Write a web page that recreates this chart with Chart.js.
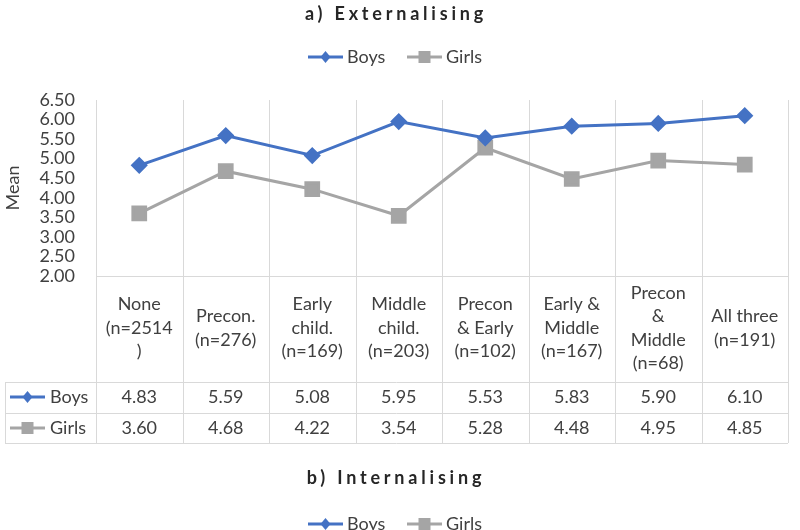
<!DOCTYPE html>
<html><head><meta charset="utf-8">
<script src="https://cdn.jsdelivr.net/npm/chart.js@4/dist/chart.umd.min.js"></script>
<style>html,body{margin:0;padding:0;background:#fff}canvas{display:block}</style>
</head><body>
<canvas id="c" width="800" height="530"></canvas>
<script>
const categories = [["None","(n=2514",")"],["Precon.","(n=276)"],["Early","child.","(n=169)"],["Middle","child.","(n=203)"],["Precon","& Early","(n=102)"],["Early &","Middle","(n=167)"],["Precon","&","Middle","(n=68)"],["All three","(n=191)"]];
const boys = [4.83,5.59,5.08,5.95,5.53,5.83,5.90,6.10];
const girls = [3.60,4.68,4.22,3.54,5.28,4.48,4.95,4.85];
const seriesNames = ["Boys","Girls"];
const yMin = 2.0, yMax = 6.5, yStep = 0.5;
const chartTitle = "a) Externalising";
const nextTitle = "b) Internalising";
const yTitle = "Mean";

const FONT = 'Lato, "Open Sans", sans-serif';
const FS = 18;
const BLUE = '#4472C4', GRAY = '#A5A5A5', GRID = '#D9D9D9', TXT = '#404040';

function marker(ctx, style, x, y, color){
  ctx.save(); ctx.fillStyle = color; ctx.beginPath();
  if(style==='diamond'){ ctx.moveTo(x, y-6); ctx.lineTo(x+5, y); ctx.lineTo(x, y+6); ctx.lineTo(x-5, y); ctx.closePath(); }
  else { ctx.rect(x-6, y-6, 12, 12); }
  ctx.fill(); ctx.restore();
}
function key(ctx, x1, x2, y, color, style){
  ctx.save(); ctx.strokeStyle = color; ctx.lineWidth = 3;
  ctx.beginPath(); ctx.moveTo(x1, y); ctx.lineTo(x2, y); ctx.stroke(); ctx.restore();
  marker(ctx, style, (x1+x2)/2, y, color);
}
function legend(ctx, cx, y){
  ctx.save(); ctx.font = FS + 'px ' + FONT; ctx.fillStyle = TXT; ctx.textBaseline = 'middle'; ctx.textAlign='left';
  key(ctx, cx-90, cx-55, y, BLUE, 'diamond'); ctx.fillText(seriesNames[0], cx-51, y);
  key(ctx, cx+9, cx+44, y, GRAY, 'square'); ctx.fillText(seriesNames[1], cx+48, y);
  ctx.restore();
}
function title(ctx, text, cx, y){
  ctx.save(); ctx.font = 'bold 18px ' + FONT; ctx.fillStyle = '#262626';
  ctx.textBaseline = 'middle'; ctx.textAlign = 'center';
  try { ctx.letterSpacing = '3.8px'; } catch(e){}
  ctx.fillText(text, cx + 2, y); ctx.restore();
}

const deco = {
  id: 'deco',
  beforeDatasetsDraw(chart){
    const ctx = chart.ctx, x = chart.scales.x, a = chart.chartArea;
    const colW = x.getPixelForValue(1) - x.getPixelForValue(0);
    const n = categories.length;
    const tableBottom = 443, row1 = 382, row2 = 413, leftEdge = 5;
    ctx.save(); ctx.strokeStyle = GRID; ctx.lineWidth = 1;
    ctx.beginPath();
    for(let i=0;i<=n;i++){
      const px = Math.round(x.getPixelForValue(0) - colW/2 + i*colW) + 0.5;
      ctx.moveTo(px, a.top); ctx.lineTo(px, tableBottom);
    }
    ctx.moveTo(a.left, a.bottom + 0.5); ctx.lineTo(a.right, a.bottom + 0.5);
    [row1, row2, tableBottom].forEach(yy => { ctx.moveTo(leftEdge, yy+0.5); ctx.lineTo(a.right, yy+0.5); });
    ctx.moveTo(leftEdge+0.5, row1); ctx.lineTo(leftEdge+0.5, tableBottom);
    ctx.stroke(); ctx.restore();
  },
  afterDraw(chart){
    const ctx = chart.ctx, x = chart.scales.x, a = chart.chartArea;
    title(ctx, chartTitle, 394, 14);
    legend(ctx, 398, 57);
    ctx.save(); ctx.font = FS + 'px ' + FONT; ctx.fillStyle = TXT;
    ctx.translate(13, 188); ctx.rotate(-Math.PI/2); ctx.textAlign='center'; ctx.textBaseline='middle';
    ctx.fillText(yTitle, 0, 0); ctx.restore();
    ctx.save(); ctx.font = FS + 'px ' + FONT; ctx.fillStyle = TXT; ctx.textAlign='center'; ctx.textBaseline='middle';
    const lh = 23.5, cy = 328;
    categories.forEach((lines, i) => {
      const px = x.getPixelForValue(i);
      const y0 = cy - (lines.length-1)*lh/2;
      lines.forEach((t, j) => ctx.fillText(t, px, y0 + j*lh));
      ctx.fillText(boys[i].toFixed(2), px, 397);
      ctx.fillText(girls[i].toFixed(2), px, 428);
    });
    ctx.textAlign='left';
    key(ctx, 10, 45, 397, BLUE, 'diamond'); ctx.fillText(seriesNames[0], 50, 397);
    key(ctx, 10, 45, 428, GRAY, 'square'); ctx.fillText(seriesNames[1], 50, 428);
    ctx.restore();
    title(ctx, nextTitle, 394, 478);
    legend(ctx, 398, 524);
  }
};

new Chart(document.getElementById('c'), {
  type: 'line',
  data: {
    labels: categories,
    datasets: [
      { label: seriesNames[0], data: boys, borderColor: BLUE, backgroundColor: BLUE, borderWidth: 3,
        pointStyle: 'rectRot', pointRadius: 6.5, pointHoverRadius: 6.5, tension: 0 },
      { label: seriesNames[1], data: girls, borderColor: GRAY, backgroundColor: GRAY, borderWidth: 3,
        pointStyle: 'rect', pointRadius: 9, pointHoverRadius: 9, tension: 0 }
    ]
  },
  options: {
    responsive: false, animation: false, devicePixelRatio: 1,
    layout: { padding: { left: 0, top: 100, right: 4, bottom: 254 } },
    plugins: { legend: { display: false }, title: { display: false }, tooltip: { enabled: false } },
    scales: {
      x: { display: false, offset: true },
      y: { min: yMin, max: yMax,
        ticks: { stepSize: yStep, autoSkip: false, callback: v => v.toFixed(2), font: { family: FONT, size: FS }, color: TXT, padding: 21 },
        grid: { display: false, drawTicks: false }, border: { display: false },
        afterFit(s){ s.width = 96; } }
    }
  },
  plugins: [deco]
});
</script>
</body></html>
